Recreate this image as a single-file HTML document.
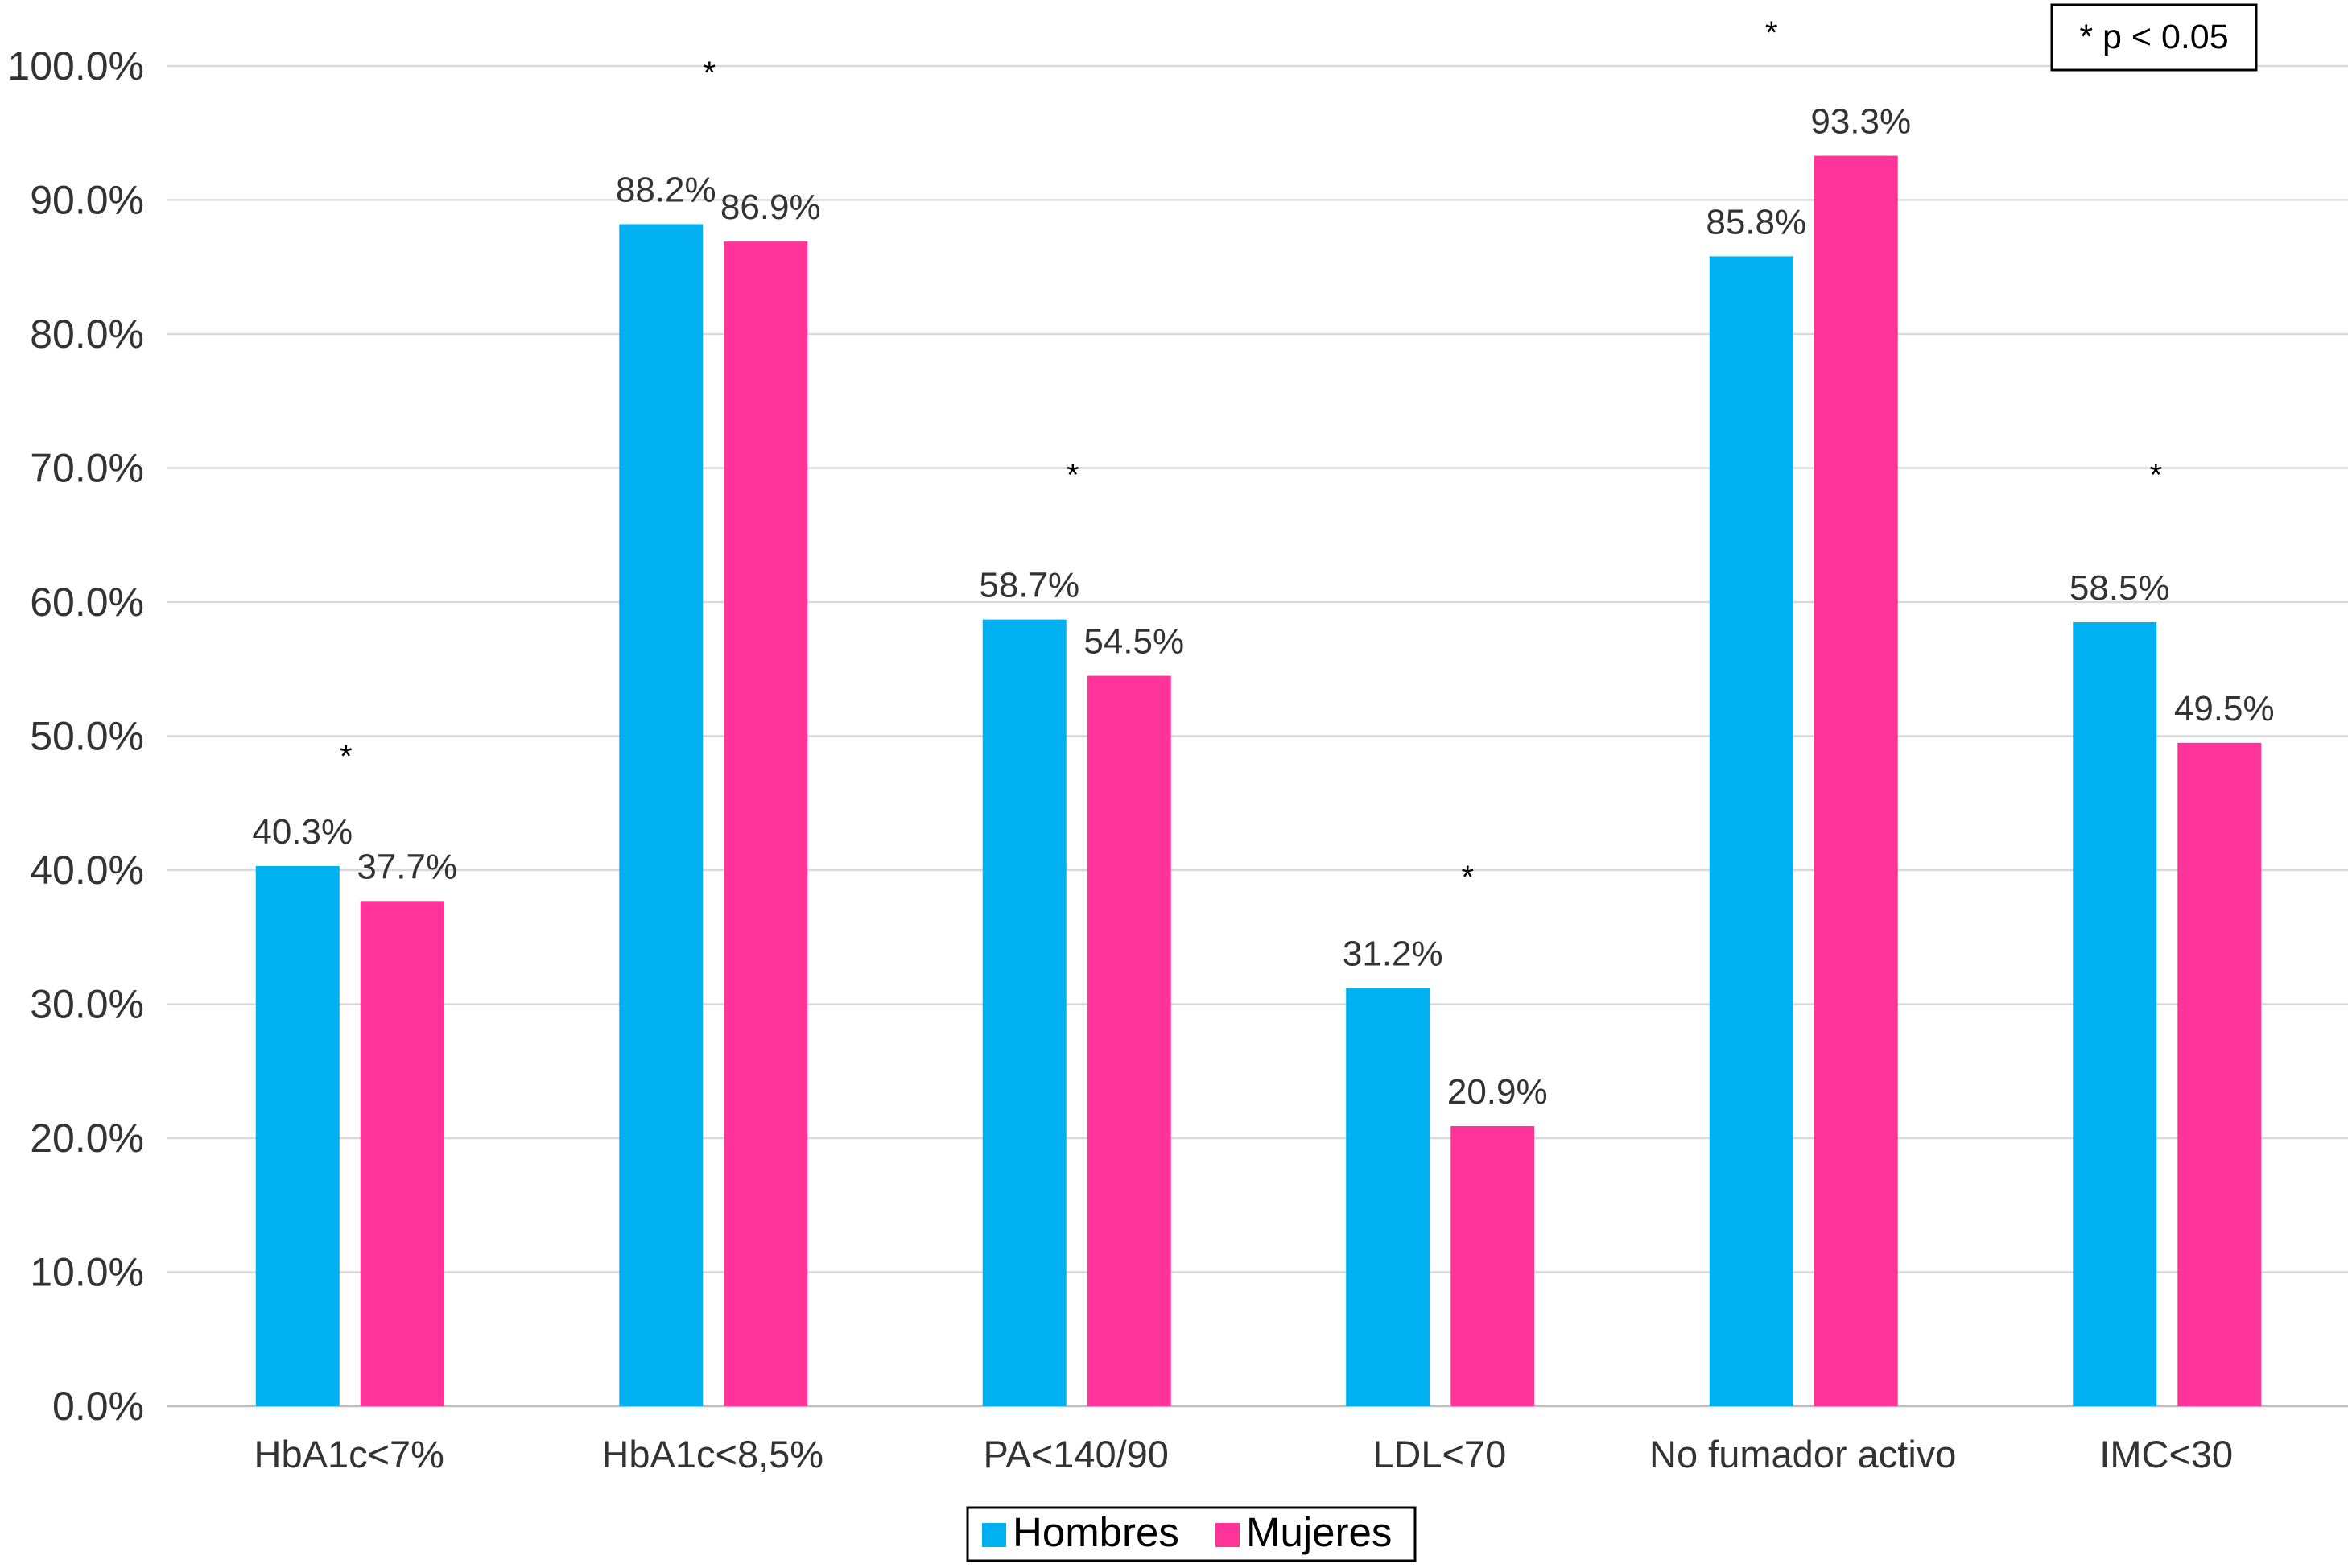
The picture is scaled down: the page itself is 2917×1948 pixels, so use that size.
<!DOCTYPE html>
<html><head><meta charset="utf-8">
<style>
html,body{margin:0;padding:0;background:#fff;}
svg{display:block;font-family:"Liberation Sans",Arial,sans-serif;}
</style></head>
<body>
<svg id="chart" width="2917" height="1948" viewBox="0 0 2917 1948" xmlns="http://www.w3.org/2000/svg">
<g id="grid"></g>
<g id="yticks"></g>
<g id="bars"></g>
<g id="xlabels"></g>
<g id="stars"></g>
<g>
<rect x="2549" y="6" width="254" height="81" fill="#fff" stroke="#000" stroke-width="3"/>
<text x="2676" y="60" font-size="43" text-anchor="middle">* p &lt; 0.05</text>
</g>
<g>
<rect x="1202" y="1873" width="556" height="66" fill="#fff" stroke="#000" stroke-width="3"/>
<g>
<rect x="1220" y="1892" width="30" height="30" fill="#00b0f0"/>
<text x="1258" y="1921" font-size="51">Hombres</text>
</g>
<g>
<rect x="1510" y="1892" width="30" height="30" fill="#ff3399"/>
<text x="1548" y="1921" font-size="51">Mujeres</text>
</g>
</g>
</svg>
<script>
const categories = ["HbA1c<7%","HbA1c<8,5%","PA<140/90","LDL<70","No fumador activo","IMC<30"];
const hombres = [40.3,88.2,58.7,31.2,85.8,58.5];
const mujeres = [37.7,86.9,54.5,20.9,93.3,49.5];
const starLevels = [49,100,70,40,103,70];
const yTicks = [0,10,20,30,40,50,60,70,80,90,100];

const starDx = [-4,-4,-4,35,-39,-13];
const NS="http://www.w3.org/2000/svg";
const plotL=208, plotR=2917, y0=1747, y100=82;
const catW=(plotR-plotL)/categories.length;
const barW=104;
function yScale(v){return y0-(v/100)*(y0-y100);}
function xCenter(i){return plotL+catW*(i+0.5);}
function mk(tag,attrs,parent){const e=document.createElementNS(NS,tag);for(const k in attrs)e.setAttribute(k,attrs[k]);parent.appendChild(e);return e;}

const grid=document.getElementById('grid'),yt=document.getElementById('yticks');
yTicks.forEach(t=>{
  const l=mk('line',{x1:plotL,x2:plotR,y1:yScale(t),y2:yScale(t),stroke:t===0?'#bfbfbf':'#d9d9d9','stroke-width':2.5},grid);
  
  
  const tx=mk('text',{x:179,y:yScale(t)+17,'font-size':50,'text-anchor':'end',fill:'#333'},yt);
  tx.textContent=t.toFixed(1)+'%';
  
  
});

const bars=document.getElementById('bars'),xl=document.getElementById('xlabels'),st=document.getElementById('stars');
categories.forEach((c,i)=>{
  const cx=xCenter(i);
  [[hombres[i],cx-116,'#00b0f0','bar-hombres'],[mujeres[i],cx+14,'#ff3399','bar-mujeres']].forEach(([v,x,col,nm])=>{
    const r=mk('rect',{x:x,y:yScale(v),width:barW,height:y0-yScale(v),fill:col},bars);
    
    
    const t=mk('text',{x:x+barW/2+6,y:yScale(v)-28,'font-size':44,'text-anchor':'middle',fill:'#333'},bars);
    t.textContent=v.toFixed(1)+'%';
    
    
  });
  const t=mk('text',{x:cx,y:1823,'font-size':47,'text-anchor':'middle',fill:'#333'},xl);
  t.textContent=c;
  
  
  const s=mk('text',{x:cx+starDx[i],y:yScale(starLevels[i])+22,'font-size':40,'text-anchor':'middle',fill:'#000'},st);
  s.textContent='*';
  
  
});
</script>
</body></html>
